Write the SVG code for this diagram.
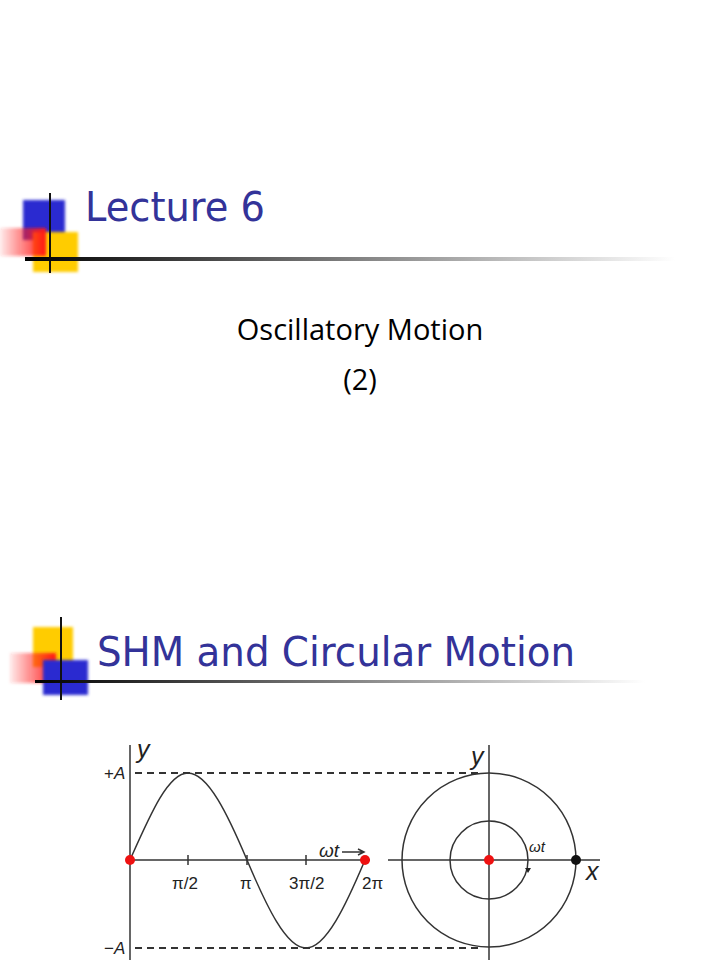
<svg xmlns="http://www.w3.org/2000/svg" width="720" height="960" viewBox="0 0 720 960">
<style>
.title{font-family:"DejaVu Sans","Liberation Sans",sans-serif;font-size:40px;fill:#333399}
.sub{font-family:"Open Sans","Liberation Sans",sans-serif;font-size:29px;fill:#000;text-anchor:middle}
.ln{stroke:#333;stroke-width:1.5;fill:none}
.dash{stroke:#333;stroke-width:2;stroke-dasharray:7,5;fill:none}
.lbl{font-family:"Liberation Sans",Arial,sans-serif;font-size:17px;fill:#222}
.it{font-style:italic}
.big{font-size:25px}
.mid{font-size:19px}
.sm{font-size:15px}
</style>
<defs>
<linearGradient id="rule" x1="0" x2="1"><stop offset="0" stop-color="#000"/><stop offset="1" stop-color="#fff"/></linearGradient>
<linearGradient id="red" x1="1" x2="0"><stop offset="0" stop-color="#ff1818"/><stop offset="1" stop-color="#ff2020" stop-opacity="0.1"/></linearGradient>
<filter id="bl"><feGaussianBlur stdDeviation="1.8"/></filter>
</defs>
<rect width="720" height="960" fill="#fff"/>
<g id="header1">
<rect x="23" y="200" width="42" height="40" fill="#2a2ad0" filter="url(#bl)"/>
<rect x="33" y="232" width="45" height="40" fill="#ffcc00" filter="url(#bl)"/>
<rect x="0" y="228" width="46" height="28" fill="url(#red)" filter="url(#bl)"/>
<line x1="50" y1="193" x2="50" y2="273" stroke="#111" stroke-width="2"/>
<rect x="25" y="257" width="650" height="4" fill="url(#rule)"/>
<text class="title" x="85" y="221" textLength="180" lengthAdjust="spacingAndGlyphs">Lecture 6</text>
</g>
<g id="subtitle">
<text class="sub" x="360" y="340">Oscillatory Motion</text>
<text class="sub" x="360" y="390">(2)</text>
</g>
<g id="header2">
<rect x="33" y="627" width="40" height="40" fill="#ffcc00" filter="url(#bl)"/>
<rect x="10" y="653" width="46" height="30" fill="url(#red)" filter="url(#bl)"/>
<rect x="43" y="660" width="45" height="35" fill="#2a2ad0" filter="url(#bl)"/>
<line x1="61" y1="617" x2="61" y2="700" stroke="#111" stroke-width="2"/>
<rect x="35" y="680" width="610" height="3" fill="url(#rule)"/>
<text class="title" x="97" y="666" textLength="478" lengthAdjust="spacingAndGlyphs">SHM and Circular Motion</text>
</g>
<g id="sine">
<line class="ln" x1="130" y1="745" x2="130" y2="960"/>
<line class="ln" x1="130" y1="860" x2="370" y2="860"/>
<line class="ln" x1="388" y1="860" x2="600" y2="860"/>
<line class="dash" x1="135" y1="773" x2="478" y2="773"/>
<line class="dash" x1="135" y1="948" x2="480" y2="948"/>
<path class="ln" stroke-width="2" d="M130,860 C150,815 168,773 188,773 C208,773 228,815 247,860 C266,905 286,948 306,948 C326,948 346,905 365,860"/>
<g class="ln"><line x1="188" y1="855" x2="188" y2="865"/><line x1="247" y1="855" x2="247" y2="865"/><line x1="306" y1="855" x2="306" y2="865"/></g>
<circle cx="130" cy="860" r="5" fill="#ee1111"/>
<circle cx="365" cy="860" r="5" fill="#ee1111"/>
<text class="lbl it big" x="137" y="758">y</text>
<text class="lbl" x="104" y="779">+<tspan class="it">A</tspan></text>
<text class="lbl" x="104" y="954">−<tspan class="it">A</tspan></text>
<text class="lbl" x="172" y="889">π/2</text>
<text class="lbl" x="240" y="889">π</text>
<text class="lbl" x="289" y="889">3π/2</text>
<text class="lbl" x="362" y="889">2π</text>
<text class="lbl it mid" x="319" y="857">ωt</text>
<path class="ln" d="M342,852 H363 M358,849 L364,852 L358,855"/>
</g>
<g id="circle">
<line class="ln" x1="489" y1="745" x2="489" y2="960"/>
<circle class="ln" cx="489" cy="860" r="87"/>
<circle class="ln" cx="489" cy="860" r="39"/>
<path d="M525,868 l3,5 l3,-5z" fill="#222"/>
<circle cx="489" cy="860" r="5" fill="#ee1111"/>
<circle cx="576" cy="860" r="5" fill="#111"/>
<text class="lbl it big" x="471" y="765">y</text>
<text class="lbl it big" x="586" y="880">x</text>
<text class="lbl it sm" x="529" y="852">ωt</text>
</g>
</svg>
